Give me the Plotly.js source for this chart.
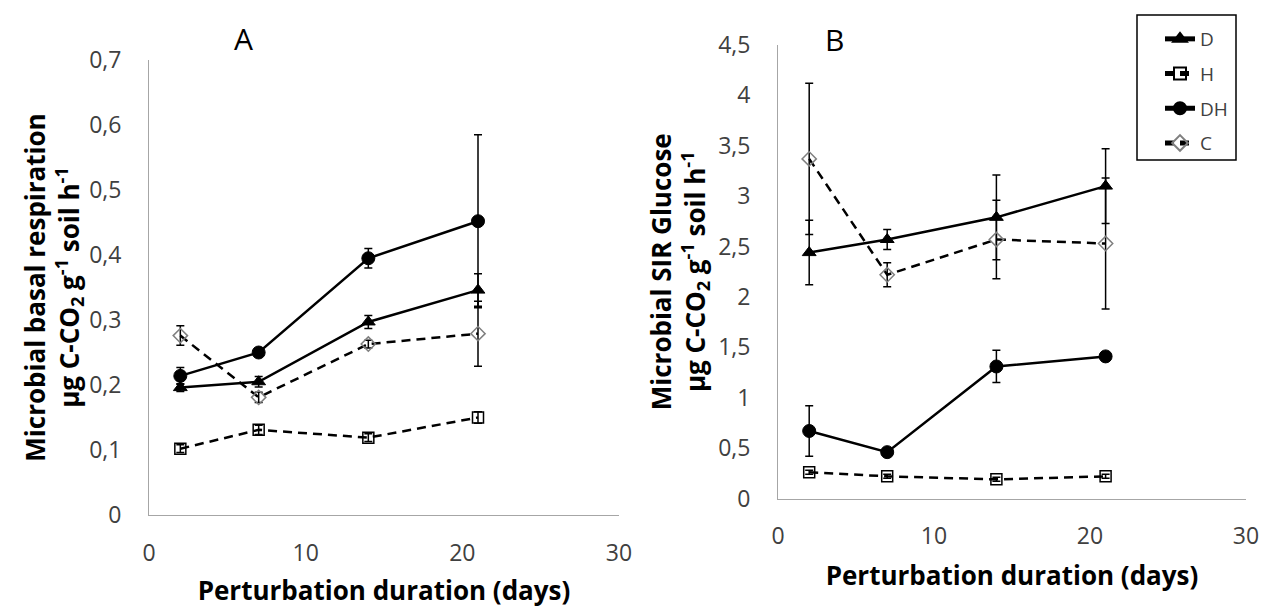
<!DOCTYPE html>
<html>
<head>
<meta charset="utf-8">
<script src="https://cdn.plot.ly/plotly-3.0.1.min.js"></script>
<style>
html,body{margin:0;padding:0;background:#fff;}
#chart{width:1264px;height:608px;}
</style>
</head>
<body>
<div id="chart"></div>
<script>
// Perturbation duration (days)
var days = [2, 7, 14, 21];
var seriesNames = ['D', 'H', 'DH', 'C'];

// Panel A: microbial basal respiration (µg C-CO2 g-1 soil h-1)
var basalD  = [0.196, 0.205, 0.297, 0.346];
var basalDErr  = [0.006, 0.008, 0.010, 0.025];
var basalH  = [0.102, 0.131, 0.119, 0.150];
var basalHErr  = [0.006, 0.007, 0.006, 0.009];
var basalDH = [0.214, 0.250, 0.395, 0.452];
var basalDHErr = [0.013, 0.004, 0.015, 0.133];
var basalC  = [0.276, 0.181, 0.263, 0.279];
var basalCErr  = [0.015, 0.008, 0.006, 0.050];

// Panel B: microbial SIR glucose (µg C-CO2 g-1 soil h-1)
var sirD  = [2.44, 2.57, 2.79, 3.10];
var sirDErr  = [0.32, 0.10, 0.42, 0.37];
var sirH  = [0.26, 0.22, 0.19, 0.22];
var sirHErr  = [0.02, 0.02, 0.02, 0.02];
var sirDH = [0.67, 0.46, 1.31, 1.41];
var sirDHErr = [0.25, 0.02, 0.16, 0.02];
var sirC  = [3.37, 2.22, 2.57, 2.53];
var sirCErr  = [0.75, 0.12, 0.39, 0.65];

// Tick labels
var xTicks = [0, 10, 20, 30];
var xTickText = ['0', '10', '20', '30'];
var yTicksA = [0, 0.1, 0.2, 0.3, 0.4, 0.5, 0.6, 0.7];
var yTickTextA = ['0', '0,1', '0,2', '0,3', '0,4', '0,5', '0,6', '0,7'];
var yTicksB = [0, 0.5, 1, 1.5, 2, 2.5, 3, 3.5, 4, 4.5];
var yTickTextB = ['0', '0,5', '1', '1,5', '2', '2,5', '3', '3,5', '4', '4,5'];

var styles = {
  D:  {line: {color: '#000', width: 2.5, dash: 'solid'},
       marker: {symbol: 'triangle-up', size: 12, color: '#000', line: {color: '#000', width: 1}}},
  H:  {line: {color: '#000', width: 2.5, dash: '9px,6px'},
       marker: {symbol: 'square-open', size: 11, color: '#000', line: {width: 1.5}}},
  DH: {line: {color: '#000', width: 2.5, dash: 'solid'},
       marker: {symbol: 'circle', size: 13, color: '#000', line: {color: '#000', width: 1}}},
  C:  {line: {color: '#000', width: 2.5, dash: '9px,6px'},
       marker: {symbol: 'diamond-open', size: 11, color: '#7f7f7f', line: {width: 1.5}}}
};

function mk(name, ys, errs, xa, ya, showleg) {
  var s = styles[name];
  return {
    x: days, y: ys, name: name, type: 'scatter', mode: 'lines+markers',
    xaxis: xa, yaxis: ya, showlegend: showleg, legendgroup: name,
    line: s.line, marker: s.marker,
    error_y: {type: 'data', array: errs, visible: true, color: '#000', thickness: 1.5, width: 4}
  };
}

var data = [
  mk('D', basalD, basalDErr, 'x', 'y', false),
  mk('H', basalH, basalHErr, 'x', 'y', false),
  mk('DH', basalDH, basalDHErr, 'x', 'y', false),
  mk('C', basalC, basalCErr, 'x', 'y', false),
  mk('D', sirD, sirDErr, 'x2', 'y2', true),
  mk('H', sirH, sirHErr, 'x2', 'y2', true),
  mk('DH', sirDH, sirDHErr, 'x2', 'y2', true),
  mk('C', sirC, sirCErr, 'x2', 'y2', true)
];

var W = 1264, H = 608;
var FAM = 'Open Sans, Lato, sans-serif';
var tickFont = {family: FAM, size: 23, color: '#404040'};
var titleFont = {family: FAM, size: 26, color: '#000', weight: 'bold'};

function xax(dom, anchor, so) {
  return {
    domain: dom, anchor: anchor, range: [0, 30], tickvals: xTicks, ticktext: xTickText,
    showgrid: false, zeroline: false, showline: true, linecolor: '#a6a6a6', linewidth: 1,
    ticks: 'outside', ticklen: 17, tickcolor: 'rgba(0,0,0,0)', tickfont: tickFont,
    title: {text: 'Perturbation duration (days)', font: titleFont, standoff: so},
    automargin: false, fixedrange: true
  };
}
function yax(dom, anchor, rng, tv, tt, title, so) {
  return {
    domain: dom, anchor: anchor, range: rng, tickvals: tv, ticktext: tt,
    showgrid: false, zeroline: false, showline: true, linecolor: '#a6a6a6', linewidth: 1,
    ticks: 'outside', ticklen: 22, tickcolor: 'rgba(0,0,0,0)', tickfont: tickFont,
    title: {text: title, font: titleFont, standoff: so},
    automargin: false, fixedrange: true
  };
}

var layout = {
  width: W, height: H,
  margin: {l: 0, r: 0, t: 0, b: 0},
  paper_bgcolor: '#fff', plot_bgcolor: '#fff',
  showlegend: true,
  xaxis: xax([149 / W, 619 / W], 'y', 20),
  yaxis: yax([1 - 515 / H, 1 - 60 / H], 'x', [0, 0.7], yTicksA, yTickTextA,
    'Microbial basal respiration<br>µg C-CO<sub>2</sub> g<sup>-1</sup> soil h<sup>-1</sup>', 2),
  xaxis2: xax([778 / W, 1246 / W], 'y2', 16),
  yaxis2: yax([1 - 498.5 / H, 1 - 45 / H], 'x2', [0, 4.5], yTicksB, yTickTextB,
    'Microbial SIR Glucose<br>µg C-CO<sub>2</sub> g<sup>-1</sup> soil h<sup>-1</sup>', 5),
  legend: {
    x: 1160 / W, y: 1 - 20 / H, xanchor: 'left', yanchor: 'top',
    borderwidth: 0, bgcolor: 'rgba(255,255,255,0)',
    font: {family: FAM, size: 19, color: '#404040'},
    tracegroupgap: 7, itemsizing: 'constant'
  },
  shapes: [
    {type: 'rect', xref: 'paper', yref: 'paper',
     x0: 1137 / W, x1: 1236 / W, y0: 1 - 160 / H, y1: 1 - 15 / H,
     line: {color: '#000', width: 1.5}, fillcolor: 'rgba(0,0,0,0)', layer: 'below'}
  ],
  annotations: [
    {text: 'A', x: 243 / W, y: 1 - 38 / H, xref: 'paper', yref: 'paper', showarrow: false,
     xanchor: 'center', yanchor: 'middle', font: {family: FAM, size: 30, color: '#000'}},
    {text: 'B', x: 834 / W, y: 1 - 39 / H, xref: 'paper', yref: 'paper', showarrow: false,
     xanchor: 'center', yanchor: 'middle', font: {family: FAM, size: 30, color: '#000'}}
  ]
};

Plotly.newPlot('chart', data, layout, {displayModeBar: false, staticPlot: true});
</script>
</body>
</html>
